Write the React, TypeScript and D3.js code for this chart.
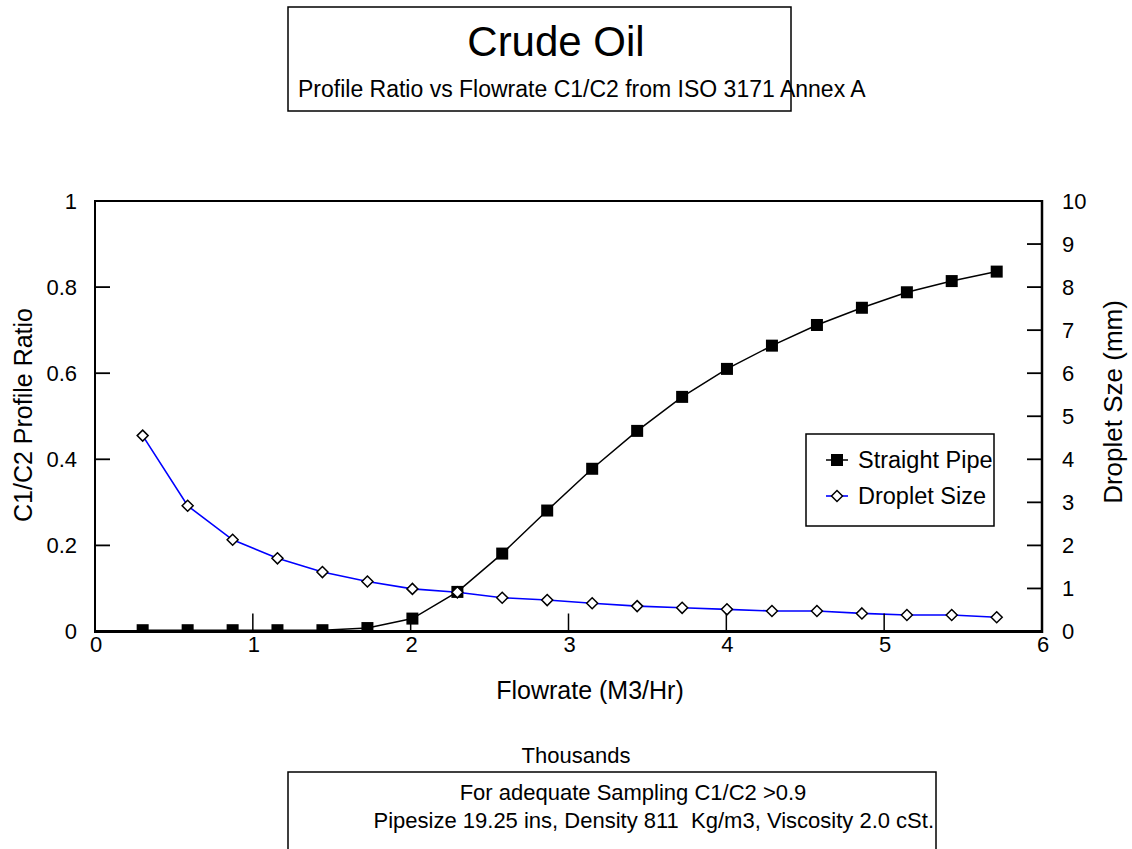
import React from "react";
import * as d3 from "d3";

// flowrate in thousands of M3/Hr
const flowrate = [0.302, 0.587, 0.872, 1.156, 1.441, 1.726, 2.011, 2.296, 2.58, 2.865, 3.15, 3.435, 3.72, 4.004, 4.289, 4.574, 4.859, 5.144, 5.428, 5.713];
const straightPipe = [0.003, 0.003, 0.003, 0.003, 0.003, 0.008, 0.03, 0.092, 0.181, 0.281, 0.378, 0.466, 0.545, 0.61, 0.664, 0.712, 0.752, 0.788, 0.814, 0.836];
const dropletSize = [4.55, 2.92, 2.13, 1.7, 1.38, 1.16, 0.99, 0.91, 0.785, 0.73, 0.655, 0.59, 0.55, 0.515, 0.476, 0.476, 0.42, 0.383, 0.383, 0.33];

const xTicks = [0, 1, 2, 3, 4, 5, 6];
const leftTicks = [0, 0.2, 0.4, 0.6, 0.8, 1];
const rightTicks = [0, 1, 2, 3, 4, 5, 6, 7, 8, 9, 10];

const FONT = "'Liberation Sans', Arial, sans-serif";

export default function App() {
  const left = 95, right = 1042, top = 201, bottom = 631.5;

  const x = d3.scaleLinear().domain([0, 6]).range([left, right]);
  const yL = d3.scaleLinear().domain([0, 1]).range([bottom, top]);
  const yR = d3.scaleLinear().domain([0, 10]).range([bottom, top]);

  const pipeLine = d3.line<number>().x((d, i) => x(flowrate[i])).y((d) => yL(d))(straightPipe) || "";
  const dropLine = d3.line<number>().x((d, i) => x(flowrate[i])).y((d) => yR(d))(dropletSize) || "";
  const diamond = (cx: number, cy: number, r: number) => `M${cx},${cy - r}L${cx + r},${cy}L${cx},${cy + r}L${cx - r},${cy}Z`;

  return (
    <div style={{ position: "absolute", left: 0, top: 0 }}>
      <svg width={1132} height={849} style={{ display: "block", fontFamily: FONT }}>
        <rect width={1132} height={849} fill="#fff" />
        <defs>
          <clipPath id="plot">
            <rect x={left} y={top} width={right - left} height={bottom - top} />
          </clipPath>
        </defs>

        {/* title box */}
        <rect x={288} y={7} width={503} height={104} fill="none" stroke="#000" strokeWidth={1.5} />
        <text x={556} y={56} textAnchor="middle" fontSize={42}>Crude Oil</text>
        <text x={298} y={97} fontSize={23}>Profile Ratio vs Flowrate C1/C2 from ISO 3171 Annex A</text>

        {/* series */}
        <g clipPath="url(#plot)">
          <path d={pipeLine} fill="none" stroke="#000" strokeWidth={1.5} />
          {straightPipe.map((d, i) => (
            <rect key={i} x={x(flowrate[i]) - 6} y={yL(d) - 6} width={12} height={12} fill="#000" />
          ))}
          <path d={dropLine} fill="none" stroke="#0000ff" strokeWidth={1.6} />
          {dropletSize.map((d, i) => (
            <path key={i} d={diamond(x(flowrate[i]), yR(d), 5.5)} fill="#fff" stroke="#000" strokeWidth={1.5} />
          ))}
        </g>

        {/* frame */}
        <line x1={left} x2={right} y1={top} y2={top} stroke="#000" strokeWidth={2} />
        <line x1={left} x2={left} y1={top - 1} y2={bottom} stroke="#000" strokeWidth={2} />
        <line x1={right} x2={right} y1={top - 1} y2={bottom + 1.5} stroke="#000" strokeWidth={2.5} />
        <line x1={left - 1} x2={right + 1} y1={bottom} y2={bottom} stroke="#000" strokeWidth={3} />

        {/* left axis */}
        {leftTicks.map((t) => (
          <g key={t}>
            <line x1={left} x2={left + 15} y1={yL(t)} y2={yL(t)} stroke="#000" strokeWidth={1.8} />
            <text x={77} y={yL(t)} dy="0.36em" textAnchor="end" fontSize={22}>{t === 0 || t === 1 ? String(t) : t.toFixed(1)}</text>
          </g>
        ))}

        {/* right axis */}
        {rightTicks.map((t) => (
          <g key={t}>
            <line x1={right - 15} x2={right} y1={yR(t)} y2={yR(t)} stroke="#000" strokeWidth={1.8} />
            <text x={1062} y={yR(t)} dy="0.36em" fontSize={22}>{t}</text>
          </g>
        ))}

        {/* bottom axis */}
        {xTicks.map((t) => (
          <g key={t}>
            {t > 0 && t < 6 && <line x1={x(t)} x2={x(t)} y1={bottom} y2={bottom - 18} stroke="#000" strokeWidth={1.5} />}
            <text x={x(t) + 1} y={652} textAnchor="middle" fontSize={22}>{t}</text>
          </g>
        ))}

        <text x={590} y={699} textAnchor="middle" fontSize={25}>Flowrate (M3/Hr)</text>
        <text x={576} y={763} textAnchor="middle" fontSize={22}>Thousands</text>
        <text transform="translate(23,415) rotate(-90)" dy="0.35em" textAnchor="middle" fontSize={25}>C1/C2 Profile Ratio</text>
        <text transform="translate(1113,402) rotate(-90)" dy="0.35em" textAnchor="middle" fontSize={26}>Droplet Sze (mm)</text>

        {/* legend */}
        <rect x={806} y={434} width={188} height={92} fill="#fff" stroke="#000" strokeWidth={1.5} />
        <line x1={826} x2={848} y1={460} y2={460} stroke="#000" strokeWidth={1.5} />
        <rect x={831} y={454} width={12} height={12} fill="#000" />
        <text x={858} y={460} dy="0.36em" fontSize={23.5}>Straight Pipe</text>
        <line x1={826} x2={848} y1={496} y2={496} stroke="#0000ff" strokeWidth={1.6} />
        <path d={diamond(837, 496, 5.5)} fill="#fff" stroke="#000" strokeWidth={1.5} />
        <text x={858} y={496} dy="0.36em" fontSize={23.5}>Droplet Size</text>

        {/* note box */}
        <rect x={288} y={772} width={648} height={100} fill="none" stroke="#000" strokeWidth={1.5} />
        <text x={633} y={800} textAnchor="middle" fontSize={22}>For adequate Sampling C1/C2 &gt;0.9</text>
        <text x={934} y={828} textAnchor="end" fontSize={22} style={{ whiteSpace: "pre" }}>{"Pipesize 19.25 ins, Density 811  Kg/m3, Viscosity 2.0 cSt."}</text>
      </svg>
    </div>
  );
}
